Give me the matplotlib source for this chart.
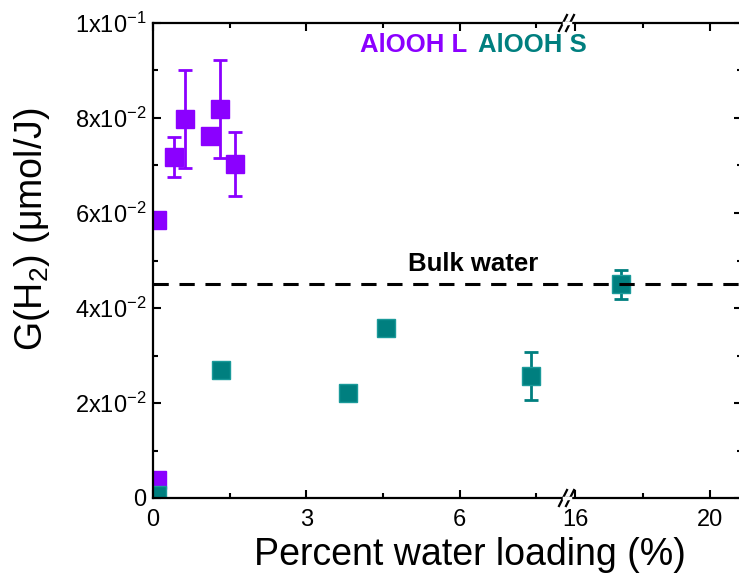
import numpy as np
import matplotlib
matplotlib.use('Agg')
import matplotlib.pyplot as plt
from matplotlib.ticker import MultipleLocator, FixedLocator, FixedFormatter

plt.rcParams['font.family'] = ['Liberation Sans', 'DejaVu Sans']
plt.rcParams['mathtext.fontset'] = 'custom'
plt.rcParams['mathtext.rm'] = 'Liberation Sans'
plt.rcParams['mathtext.it'] = 'Liberation Sans:italic'
plt.rcParams['mathtext.bf'] = 'Liberation Sans:bold'

# datos
L_x = [0.08, 0.08, 0.41, 0.63, 1.12, 1.31, 1.60]
L_y = [0.0038, 0.0585, 0.0718, 0.0798, 0.0762, 0.0819, 0.0703]
L_err = [0, 0, 0.0043, 0.0103, 0, 0.0103, 0.0067]

S_x = [0.08, 1.33, 3.82, 4.56, 7.40, 17.36]
S_y = [0.0007, 0.0269, 0.0221, 0.0358, 0.0257, 0.0450]
S_err = [0, 0, 0, 0, 0.0050, 0.0030]

bulk = 0.045

yticks = [0, 0.02, 0.04, 0.06, 0.08, 0.10]
ylabels = ['0', r'2x10$^{-2}$', r'4x10$^{-2}$', r'6x10$^{-2}$', r'8x10$^{-2}$', r'1x10$^{-1}$']

col_L = '#8B00FF'
col_S = '#007F7F'

W, H = 739, 583
fig = plt.figure(figsize=(W / 100, H / 100), dpi=100)

x0, xb, x1 = 153, 567, 742
ytop, ybot = 23, 498
b = (H - ybot) / H
h = (ybot - ytop) / H
ax1 = fig.add_axes([x0 / W, b, (xb - x0) / W, h])
ax2 = fig.add_axes([xb / W, b, (x1 - xb) / W, h])
ax2.patch.set_visible(False)

for ax in (ax1, ax2):
    ax.errorbar(L_x, L_y, yerr=L_err, fmt='s', color=col_L, ms=13, mec=col_L,
                elinewidth=2, capsize=5, capthick=2)
    ax.errorbar(S_x, S_y, yerr=S_err, fmt='s', color=col_S, ms=13, mec='#1a9a9a',
                elinewidth=2, capsize=5, capthick=2)
    ax.axhline(bulk, color='black', ls=(0, (5, 3.5)), lw=2.2, zorder=3)
    ax.set_ylim(0, 0.1)
    ax.yaxis.set_major_locator(FixedLocator(yticks))
    ax.yaxis.set_minor_locator(MultipleLocator(0.01))
    for s in ax.spines.values():
        s.set_linewidth(1.6)
    ax.tick_params(which='both', direction='in', top=True, width=1.5, labelsize=17)
    ax.tick_params(which='major', length=6)
    ax.tick_params(which='minor', length=3.5)
    ax.tick_params(axis='x', pad=8)
    ax.tick_params(axis='y', pad=5)

ax1.set_xlim(0, 8.1)
ax1.xaxis.set_major_locator(FixedLocator([0, 3, 6]))
ax1.xaxis.set_minor_locator(FixedLocator([1.5, 4.5, 7.5]))
ax1.yaxis.set_major_formatter(FixedFormatter(ylabels))
ax1.spines['right'].set_visible(False)
ax1.tick_params(axis='y', which='both', right=False)

ax2.set_xlim(15.76, 20.95)
ax2.xaxis.set_major_locator(FixedLocator([16, 20]))
ax2.xaxis.set_minor_locator(FixedLocator([18]))
ax2.spines['left'].set_visible(False)
ax2.tick_params(axis='y', which='both', left=False, labelleft=False, right=True)

ax1.text(4.05, 0.0954, 'AlOOH L', color=col_L, fontsize=18.5, fontweight='bold', va='center')
ax1.text(6.36, 0.0954, 'AlOOH S', color=col_S, fontsize=18.5, fontweight='bold', va='center')
ax1.text(4.99, 0.0492, 'Bulk water', color='black', fontsize=18.5, fontweight='bold', va='center')

# marcas de corte del eje
for yy in (ybot, ytop):
    for dx in (-4, 3):
        fig.add_artist(plt.Line2D([(xb + dx - 4) / W, (xb + dx + 4) / W],
                                  [(H - yy - 8) / H, (H - yy + 8) / H],
                                  color='black', lw=1.6))
    fig.add_artist(plt.Line2D([(xb - 3) / W, (xb + 3) / W],
                              [(H - yy) / H, (H - yy) / H], color='white', lw=2.5))

fig.text(470 / W, 0.048, 'Percent water loading (%)', fontsize=27, ha='center', va='center')
fig.text(32 / W, 0.607, r'G(H$_2$) (μmol/J)', fontsize=27, rotation=90, ha='center', va='center')

fig.savefig('out.png', dpi=100)
